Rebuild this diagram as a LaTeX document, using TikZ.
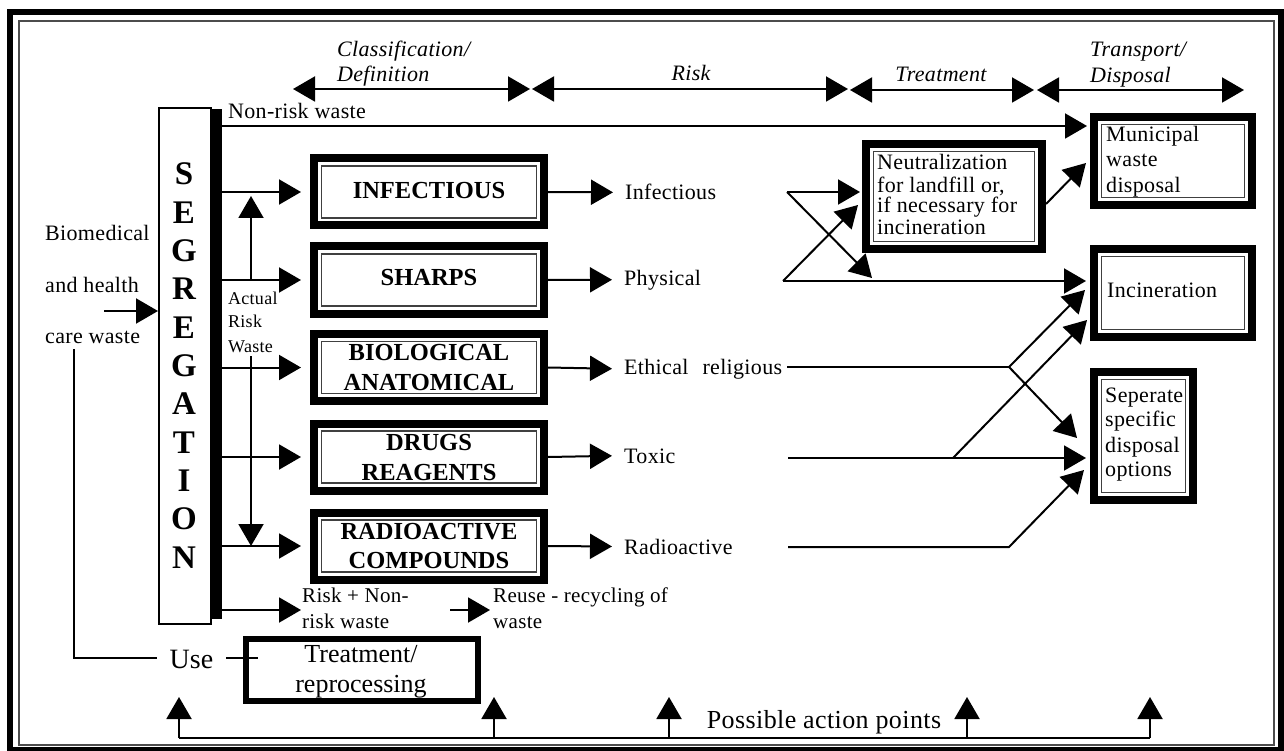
\documentclass[tikz,border=0pt]{standalone}
\usepackage{fontspec}
\setmainfont{Liberation Serif}
\newfontfamily\rfont[LetterSpace=1.5]{Liberation Serif}
\usetikzlibrary{arrows.meta}
\begin{document}
\begin{tikzpicture}[x=1pt,y=-1pt,
  ln/.style={line width=2pt},
  arr/.style={line width=2pt,-{Triangle[length=22pt,width=25pt]}},
  dbl/.style={line width=2pt,{Triangle[length=22pt,width=25pt]}-{Triangle[length=22pt,width=25pt]}},
  bbox/.style={draw,line width=8pt,inner sep=0pt,outer sep=0pt},
  inl/.style={draw=black!75,line width=1.2pt},
  rt/.style={font=\rfont\fontsize{22}{24}\selectfont,inner sep=0pt,anchor=base west},
  rs/.style={font=\rfont\fontsize{21}{24}\selectfont,inner sep=0pt,anchor=base west},
  st/.style={font=\rfont\fontsize{18}{20}\selectfont,inner sep=0pt,anchor=base west},
  it/.style={font=\rfont\itshape\fontsize{22}{24}\selectfont,inner sep=0pt,anchor=base west},
  bl/.style={font=\bfseries\fontsize{24.5}{28}\selectfont,inner sep=0pt,anchor=base},
  sg/.style={font=\bfseries\fontsize{33}{36}\selectfont,inner sep=0pt,anchor=base},
]
\useasboundingbox (0,0) rectangle (1284,751);
\fill[white] (0,0) rectangle (1284,751);
% frame
\draw[line width=6pt] (10,12) rectangle (1281,750);
\draw[draw=black!70,line width=1.2pt] (19,21) rectangle (1274,745);

% top phase arrows
\coordinate (h1) at (293,89); \coordinate (h2) at (530,89);
\coordinate (h3) at (532,89); \coordinate (h4) at (848,89);
\coordinate (h5) at (850,90); \coordinate (h6) at (1034,90);
\coordinate (h7) at (1037,90); \coordinate (h8) at (1244,90);
\draw[dbl] (h1) -- (h2);
\draw[dbl] (h3) -- (h4);
\draw[dbl] (h5) -- (h6);
\draw[dbl] (h7) -- (h8);
\node[it] (lc1) at (337,57) {Classification/};
\node[it] (lc2) at (337,82) {Definition};
\node[it,anchor=base] (lrk) at (691,81) {Risk};
\node[it,anchor=base] (ltr) at (941,82) {Treatment};
\node[it] (lt1) at (1090,57) {Transport/};
\node[it] (lt2) at (1090,83) {Disposal};

% segregation
\node[draw,line width=2pt,minimum width=52,minimum height=516,inner sep=0pt] (seg) at (185,366) {};
\node[fill=black,inner sep=0pt,minimum width=10,minimum height=510] (segbar) at (217,364) {};
\foreach \l [count=\i from 0] in {S,E,G,R,E,G,A,T,I,O,N}
  \node[sg] (sl\i) at (184,185+38.3*\i) {\l};

% input
\node[rt] (b1) at (45,241) {Biomedical};
\node[rt] (b2) at (45,292) {and health};
\node[rt] (b3) at (45,343) {care waste};
\coordinate (inA) at (104,311);
\draw[arr] (inA) -- (seg.west |- inA);

% feedback / use
\coordinate (fb0) at (74,349);
\coordinate (fb1) at (74,658);
\node[font=\fontsize{28}{30}\selectfont,inner ysep=0pt,inner xsep=13pt,anchor=base] (use) at (191.5,668) {Use};
\draw[ln] (fb0) -- (fb1) -- (fb1 -| use.west);
\node[draw,line width=6pt,minimum width=232,minimum height=62,inner sep=0pt] (treat) at (362,670) {};
\node[font=\fontsize{26}{30}\selectfont,inner sep=0pt,anchor=base] (tr1) at (361,662) {Treatment/};
\node[font=\fontsize{26}{30}\selectfont,inner sep=0pt,anchor=base] (tr2) at (361,692) {reprocessing};
\coordinate (uend) at (258,658);
\draw[ln] (use.east |- fb1) -- (uend);

% category boxes
\node[bbox,minimum width=230,minimum height=67] (infect) at (429,192) {};
\node[bbox,minimum width=230,minimum height=67] (sharps) at (429,280) {};
\node[bbox,minimum width=230,minimum height=67] (bio) at (429,367.5) {};
\node[bbox,minimum width=230,minimum height=67] (drugs) at (429,457) {};
\node[bbox,minimum width=230,minimum height=67] (radio) at (429,546) {};
\node[bbox,minimum width=176,minimum height=105] (neut) at (954,196.5) {};
\node[bbox,minimum width=158,minimum height=88] (muni) at (1173,161) {};
\node[bbox,minimum width=158,minimum height=88] (incin) at (1173,293) {};
\node[bbox,minimum width=99,minimum height=128] (sep) at (1143.5,436) {};
\foreach \n in {infect,sharps,bio,drugs,radio,neut,muni,incin,sep}
  \draw[inl] ([shift={(7.5,7.5)}]\n.north west) rectangle ([shift={(-7.5,-7.5)}]\n.south east);

\node[bl] (linf) at (429,199) {INFECTIOUS};
\node[bl] (lsh) at (429,285) {SHARPS};
\node[bl] (lb1) at (429,360) {BIOLOGICAL};
\node[bl] (lb2) at (429,390) {ANATOMICAL};
\node[bl] (lg1) at (429,450) {DRUGS};
\node[bl] (lg2) at (429,480) {REAGENTS};
\node[bl] (lr1) at (429,539) {RADIOACTIVE};
\node[bl] (lr2) at (429,568) {COMPOUNDS};

% segregation outputs
\coordinate (nr1) at (1087,126);
\draw[arr] (segbar.east |- nr1) -- (nr1);
\node[rt] (tnr) at (228,119) {Non-risk waste};
\foreach \n in {infect,sharps,bio,drugs,radio}
  \draw[arr] (segbar.east |- \n.west) -- ([xshift=-13pt]\n.west);
\coordinate (ua0) at (251,280); \coordinate (ua1) at (251,196);
\draw[arr] (ua0) -- (ua1);
\node[st] (ac1) at (228,304) {Actual};
\node[st] (ac2) at (228,327) {Risk};
\node[st] (ac3) at (228,352) {Waste};
\coordinate (da0) at (251,356); \coordinate (da1) at (251,546);
\draw[arr] (da0) -- (da1);
\coordinate (rn) at (301,610);
\draw[arr] (segbar.east |- rn) -- (rn);
\node[rs] (rn1) at (302,602) {Risk + Non-};
\node[rs] (rn2) at (302,628) {risk waste};
\coordinate (re0) at (450,610); \coordinate (re1) at (490,610);
\draw[arr] (re0) -- (re1);
\node[rs] (ru1) at (493,602) {Reuse - recycling of};
\node[rs] (ru2) at (493,628) {waste};

% risk labels
\node[rt] (tinf) at (625,200) {Infectious};
\node[rt] (tphy) at (624,285) {Physical};
\node[rt] (teth) at (624,374) {Ethical\hspace{14pt}religious};
\node[rt] (ttox) at (624,463) {Toxic};
\node[rt] (trad) at (624,554) {Radioactive};
\draw[arr] ([xshift=4pt]infect.east) -- ([xshift=-12pt]tinf.west);
\draw[arr] ([xshift=4pt]sharps.east) -- ([xshift=-12pt]tphy.west);
\draw[arr] ([xshift=4pt]bio.east) -- ([xshift=-12pt]teth.west);
\draw[arr] ([xshift=4pt]drugs.east) -- ([xshift=-12pt]ttox.west);
\draw[arr] ([xshift=4pt]radio.east) -- ([xshift=-12pt]trad.west);

% treatment / disposal texts
\node[rt] (nt1) at (877,170) {Neutralization};
\node[rt] (nt2) at (877,193) {for landfill or,};
\node[rt] (nt3) at (877,213) {if necessary for};
\node[rt] (nt4) at (877,235) {incineration};
\node[rt] (mt1) at (1106,142) {Municipal};
\node[rt] (mt2) at (1106,167) {waste};
\node[rt] (mt3) at (1106,193) {disposal};
\node[rt] (it1) at (1107,297) {Incineration};
\node[rt] (st1) at (1105,402) {Seperate};
\node[rt] (st2) at (1105,426) {specific};
\node[rt] (st3) at (1105,452) {disposal};
\node[rt] (st4) at (1105,476) {options};

% risk to treatment / disposal connectors
\coordinate (j1) at (787,192); \coordinate (n1) at (860,192); \coordinate (x1) at (872,278);
\coordinate (j2) at (783,281); \coordinate (n2) at (858,205); \coordinate (i1) at (1086,281);
\coordinate (ne0) at (1046,204); \coordinate (m1) at (1086,163);
\coordinate (j3) at (787,367); \coordinate (j4) at (1009,367);
\coordinate (i2) at (1085,290); \coordinate (s1) at (1077,438);
\coordinate (j5) at (788,458); \coordinate (s2) at (1086,458);
\coordinate (j6) at (953,458); \coordinate (i3) at (1087,320);
\coordinate (j7) at (788,547); \coordinate (j8) at (1009,547); \coordinate (s3) at (1084,470);
\draw[arr] (j1) -- (n1);
\draw[arr] (j1) -- (x1);
\draw[arr] (j2) -- (n2);
\draw[arr] (j2) -- (i1);
\draw[arr] (ne0) -- (m1);
\draw[ln] (j3) -- (j4);
\draw[arr] (j4) -- (i2);
\draw[arr] (j4) -- (s1);
\draw[arr] (j5) -- (s2);
\draw[arr] (j6) -- (i3);
\draw[arr] (j7) -- (j8) -- (s3);

% possible action points
\coordinate (p1) at (179,738); \coordinate (q1) at (179,697);
\coordinate (p2) at (494,738); \coordinate (q2) at (494,697);
\coordinate (p3) at (669,738); \coordinate (q3) at (669,697);
\coordinate (p4) at (967,738); \coordinate (q4) at (967,697);
\coordinate (p5) at (1150,738); \coordinate (q5) at (1150,697);
\draw[ln] (p1) -- (p5);
\draw[arr] (p1) -- (q1);
\draw[arr] (p2) -- (q2);
\draw[arr] (p3) -- (q3);
\draw[arr] (p4) -- (q4);
\draw[arr] (p5) -- (q5);
\node[font=\rfont\fontsize{26}{28}\selectfont,inner sep=0pt,anchor=base] (pap) at (824,728) {Possible action points};
\end{tikzpicture}
\end{document}
